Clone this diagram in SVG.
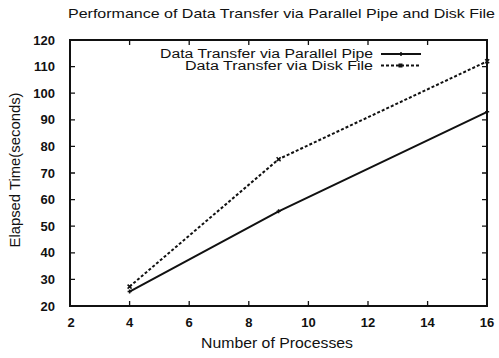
<svg xmlns="http://www.w3.org/2000/svg" width="499" height="358" viewBox="0 0 499 358">
<style>
text{font-family:"Liberation Sans",Arial,sans-serif;fill:#111}
.tk{font-size:13px;font-weight:bold}
.ty{text-anchor:end}
.tx{text-anchor:middle}
.ax{fill:none;stroke:#111;stroke-width:2}
.tick{stroke:#111;stroke-width:1.3}
.pipe{fill:none;stroke:#111;stroke-width:2}
.disk{fill:none;stroke:#111;stroke-width:2;stroke-dasharray:3 2}
.m{stroke:#111;stroke-width:1.5}
</style>
<rect width="499" height="358" fill="#fff"/>
<g id="title"><text x="68" y="18" font-size="13.5" textLength="427" lengthAdjust="spacingAndGlyphs">Performance of Data Transfer via Parallel Pipe and Disk File</text></g>
<g id="axes">
<rect class="ax" x="70" y="40" width="417" height="266"/>
<g class="tick">
<path d="M70 279.4h5M70 252.8h5M70 226.2h5M70 199.6h5M70 173h5M70 146.4h5M70 119.8h5M70 93.2h5M70 66.6h5"/>
<path d="M487 279.4h-5M487 252.8h-5M487 226.2h-5M487 199.6h-5M487 173h-5M487 146.4h-5M487 119.8h-5M487 93.2h-5M487 66.6h-5"/>
<path d="M129.6 306v-5M189.2 306v-5M248.8 306v-5M308.4 306v-5M368 306v-5M427.6 306v-5"/>
<path d="M129.6 40v5M189.2 40v5M248.8 40v5M308.4 40v5M368 40v5M427.6 40v5"/>
</g>
<g class="tk ty">
<text x="55" y="44.5">120</text>
<text x="55" y="71">110</text>
<text x="55" y="97.5">100</text>
<text x="55" y="124">90</text>
<text x="55" y="151">80</text>
<text x="55" y="177.5">70</text>
<text x="55" y="204">60</text>
<text x="55" y="230.5">50</text>
<text x="55" y="257">40</text>
<text x="55" y="284">30</text>
<text x="55" y="311">20</text>
</g>
<g class="tk tx">
<text x="71" y="327">2</text>
<text x="129.6" y="327">4</text>
<text x="189.2" y="327">6</text>
<text x="248.8" y="327">8</text>
<text x="308.4" y="327">10</text>
<text x="368" y="327">12</text>
<text x="427.6" y="327">14</text>
<text x="487" y="327">16</text>
</g>
<text class="tx" x="277" y="348" font-size="15" textLength="152" lengthAdjust="spacingAndGlyphs">Number of Processes</text>
<text class="tx" transform="translate(20 170) rotate(-90)" font-size="14" textLength="155" lengthAdjust="spacingAndGlyphs">Elapsed Time(seconds)</text>
</g>
<g id="legend">
<text class="ty" x="373" y="57.5" font-size="12" textLength="213" lengthAdjust="spacingAndGlyphs">Data Transfer via Parallel Pipe</text>
<text class="ty" x="373" y="70" font-size="12" textLength="188" lengthAdjust="spacingAndGlyphs">Data Transfer via Disk File</text>
</g>
<g id="connectors">
<path class="pipe" d="M381 54H421"/>
<path class="m" d="M401 52v4"/>
<path class="disk" d="M381 65.5H421"/>
<rect x="398.5" y="63.5" width="4" height="4" fill="#111"/>
<polyline class="pipe" points="129.6,291.6 278.6,211.3 487.2,111.8"/>
<polyline class="disk" points="129.6,286.6 278.6,159.2 487.2,61.3"/>
<g class="m">
<path d="M129.6 289.6v4M127.6 291.6h4M278.6 209.3v4M276.6 211.3h4M487.2 109.8v4M485.2 111.8h4"/>
<path d="M127.6 284.6l4 4M131.6 284.6l-4 4M276.6 157.2l4 4M280.6 157.2l-4 4M485.2 59.3l4 4M489.2 59.3l-4 4"/>
</g>
</g>
</svg>
